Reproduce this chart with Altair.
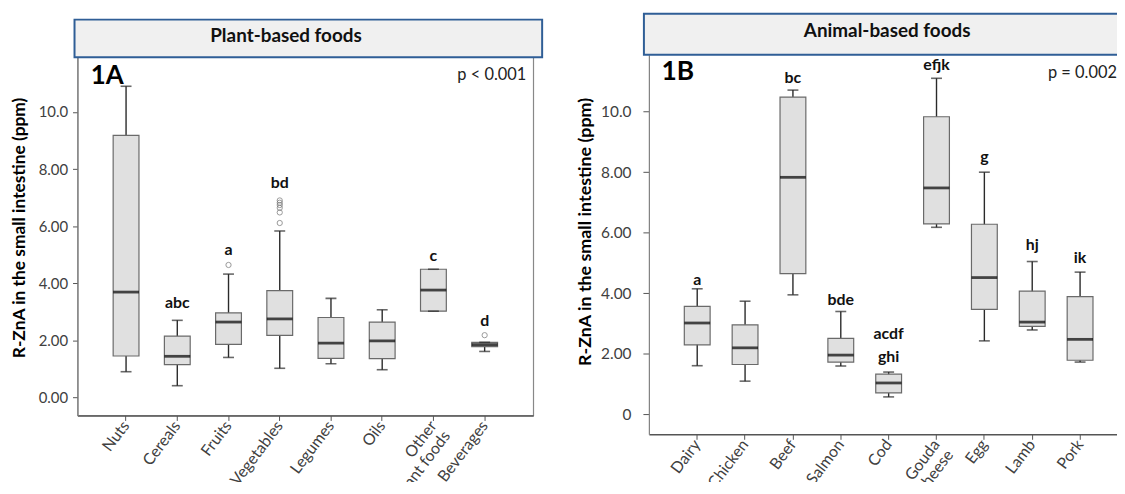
import altair as alt
import pandas as pd

FONT = "Lato"

# ---------------- Panel 1A : plant-based foods ----------------
plant_foods = ["Nuts", "Cereals", "Fruits", "Vegetables", "Legumes", "Oils",
               "Other plant foods", "Beverages"]
plant_low = [0.90, 0.41, 1.40, 1.02, 1.18, 0.97, 3.02, 1.61]
plant_q1 = [1.45, 1.15, 1.86, 2.17, 1.37, 1.36, 3.02, 1.78]
plant_med = [3.69, 1.44, 2.64, 2.75, 1.90, 1.98, 3.76, 1.85]
plant_q3 = [9.18, 2.15, 2.96, 3.74, 2.80, 2.64, 4.49, 1.93]
plant_high = [10.90, 2.70, 4.32, 5.83, 3.47, 3.07, 4.49, 1.93]
plant_letters = ["", "abc", "a", "bd", "", "", "c", "d"]
plant_letter_y = [0, 3.29, 5.17, 7.50, 0, 0, 4.96, 2.66]
plant_out_food = ["Fruits", "Vegetables", "Vegetables", "Vegetables",
                  "Vegetables", "Vegetables", "Vegetables", "Beverages"]
plant_out_val = [4.64, 6.90, 6.82, 6.74, 6.64, 6.48, 6.11, 2.18]

# ---------------- Panel 1B : animal-based foods ----------------
animal_foods = ["Dairy", "Chicken", "Beef", "Salmon", "Cod", "Gouda cheese",
                "Egg", "Lamb", "Pork"]
animal_low = [1.61, 1.10, 3.95, 1.60, 0.58, 6.18, 2.43, 2.79, 1.73]
animal_q1 = [2.30, 1.65, 4.65, 1.73, 0.71, 6.29, 3.47, 2.91, 1.79]
animal_med = [3.02, 2.20, 7.83, 1.96, 1.04, 7.48, 4.52, 3.05, 2.48]
animal_q3 = [3.57, 2.96, 10.48, 2.51, 1.33, 9.83, 6.28, 4.07, 3.89]
animal_high = [4.15, 3.74, 10.71, 3.40, 1.40, 11.10, 8.00, 5.05, 4.70]
animal_letter_food = ["Dairy", "Beef", "Salmon", "Cod", "Cod", "Gouda cheese",
                      "Egg", "Lamb", "Pork"]
animal_letters = ["a", "bc", "bde", "acdf", "ghi", "efjk", "g", "hj", "ik"]
animal_letter_y = [4.45, 11.10, 3.79, 2.65, 1.89, 11.55, 8.49, 5.60, 5.16]

Y_TITLE = "R-ZnA in the small intestine (ppm)"


def panel(foods, low, q1, med, q3, high, let_food, letters, let_y,
          out_food, out_val, width, height, pad_outer, ydom, label_expr,
          fs, tick_size, label_pad, title_fs, title_y, title_pad,
          header_text, header_x, header_y, header_x1, header_x2,
          header_y1, header_y2, tag, tag_x, tag_y,
          pval, pval_x, pval_y, pval_align, frame_stroke):
    box = pd.DataFrame({"food": foods, "low": low, "q1": q1, "med": med,
                        "q3": q3, "high": high})
    lets = pd.DataFrame({"food": let_food, "txt": letters, "y": let_y})
    lets = lets[lets["txt"] != ""]

    x = alt.X(
        "food:N",
        sort=foods,
        scale=alt.Scale(domain=foods, paddingInner=0, paddingOuter=pad_outer),
        axis=alt.Axis(
            title=None, labelAngle=-53, labelFont=FONT, labelFontSize=16,
            labelColor="#404040", tickSize=5, tickColor="#555555",
            domainColor="#555555", domainWidth=1.5, labelPadding=2,
            labelLineHeight=17,
            labelExpr=("datum.value == 'Other plant foods' ? ['Other', 'plant foods'] : "
                       "datum.value == 'Gouda cheese' ? ['Gouda', 'cheese'] : datum.label"),
        ),
    )
    yscale = alt.Scale(domain=ydom, nice=False, zero=False)
    y_axis = alt.Axis(
        values=[0, 2, 4, 6, 8, 10], labelExpr=label_expr, grid=False,
        tickSize=tick_size, tickColor="#555555", domainColor="#808080",
        labelFont=FONT, labelFontSize=fs, labelColor="#404040",
        labelPadding=label_pad,
        title=Y_TITLE, titleFont=FONT, titleFontSize=title_fs,
        titleFontWeight="bold", titleColor="#000000", titleY=title_y,
        titlePadding=title_pad,
    )

    base = alt.Chart(box)
    whisk = base.mark_rule(color="#2a2a2a", strokeWidth=1.4).encode(
        x=x, y=alt.Y("low:Q", scale=yscale, axis=y_axis), y2="high:Q")
    bars = base.mark_bar(size=26, fill="#e0e0e0", stroke="#6a6a6a",
                         strokeWidth=1.2).encode(x=x, y="q1:Q", y2="q3:Q")
    cap_lo = base.mark_tick(size=11, thickness=1.6, color="#2a2a2a").encode(
        x=x, y="low:Q")
    cap_hi = base.mark_tick(size=11, thickness=1.6, color="#2a2a2a").encode(
        x=x, y="high:Q")
    median = base.mark_tick(size=26, thickness=2.8, color="#000000").encode(
        x=x, y="med:Q")
    letter_layer = alt.Chart(lets).mark_text(
        font=FONT, fontSize=16, fontWeight="bold", color="#111111",
        baseline="middle").encode(x=x, y="y:Q", text="txt:N")

    layers = [whisk, bars, cap_lo, cap_hi, median]
    if out_food:
        outs = pd.DataFrame({"food": out_food, "v": out_val})
        layers.append(alt.Chart(outs).mark_point(
            shape="circle", size=28, filled=False, color="#707070",
            strokeWidth=1).encode(x=x, y="v:Q"))
    layers.append(letter_layer)

    one = pd.DataFrame({"k": [0]})
    ann = alt.Chart(one)
    header = ann.mark_rect(fill="#f0f0f0", stroke="#2f5e96",
                           strokeWidth=2).encode(
        x=alt.value(header_x1), x2=alt.value(header_x2),
        y=alt.value(header_y1), y2=alt.value(header_y2))
    htext = ann.mark_text(text=header_text, font=FONT, fontSize=19,
                          fontWeight="bold", color="#111111",
                          baseline="middle").encode(
        x=alt.value(header_x), y=alt.value(header_y))
    tag_t = ann.mark_text(text=tag, font=FONT, fontSize=fs + 11,
                          fontWeight="bold", color="#000000",
                          baseline="middle").encode(
        x=alt.value(tag_x), y=alt.value(tag_y))
    p_t = ann.mark_text(text=pval, font=FONT, fontSize=16.5,
                        color="#222222", baseline="middle",
                        align=pval_align).encode(
        x=alt.value(pval_x), y=alt.value(pval_y))
    layers += [header, htext, tag_t, p_t]

    return alt.layer(*layers).properties(
        width=width, height=height,
        view=alt.ViewBackground(stroke=frame_stroke, strokeWidth=1.2),
    )


left = panel(
    plant_foods, plant_low, plant_q1, plant_med, plant_q3, plant_high,
    plant_foods, plant_letters, plant_letter_y, plant_out_food, plant_out_val,
    width=459, height=363.4, pad_outer=0.448, ydom=[-0.633, 12.007],
    label_expr="datum.value == 10 ? '10.0' : format(datum.value, '.2f')",
    fs=15, tick_size=5, label_pad=5, title_fs=17.5, title_y=174, title_pad=9.5,
    header_text="Plant-based foods", header_x=210, header_y=-18.3,
    header_x1=-3, header_x2=468, header_y1=-35.3, header_y2=2.7,
    tag="1A", tag_x=30, tag_y=21.7,
    pval="p < 0.001", pval_x=452, pval_y=20.7, pval_align="right",
    frame_stroke="#888888",
)

right = panel(
    animal_foods, animal_low, animal_q1, animal_med, animal_q3, animal_high,
    animal_letter_food, animal_letters, animal_letter_y, [], [],
    width=483, height=382.4, pad_outer=0.51, ydom=[-0.656, 11.88],
    label_expr=("datum.value == 10 ? '10.0' : datum.value == 0 ? '0' : "
                "format(datum.value, '.2f')"),
    fs=15.5, tick_size=6, label_pad=12, title_fs=18, title_y=178, title_pad=6,
    header_text="Animal-based foods", header_x=240, header_y=-24,
    header_x1=-5, header_x2=520, header_y1=-41.3, header_y2=0,
    tag="1B", tag_x=29, tag_y=17.2,
    pval="p = 0.002", pval_x=402, pval_y=18.4, pval_align="left",
    frame_stroke="transparent",
)

chart = alt.hconcat(left, right, spacing=31.5).properties(
    autosize=alt.AutoSizeParams(type="none"),
    padding={"left": 70, "top": 45.3, "right": 1047, "bottom": 428.7},
    background="white",
).configure_axis(domainWidth=1.2)

chart.save("out.html", embed_options={"renderer": "svg", "actions": False})
